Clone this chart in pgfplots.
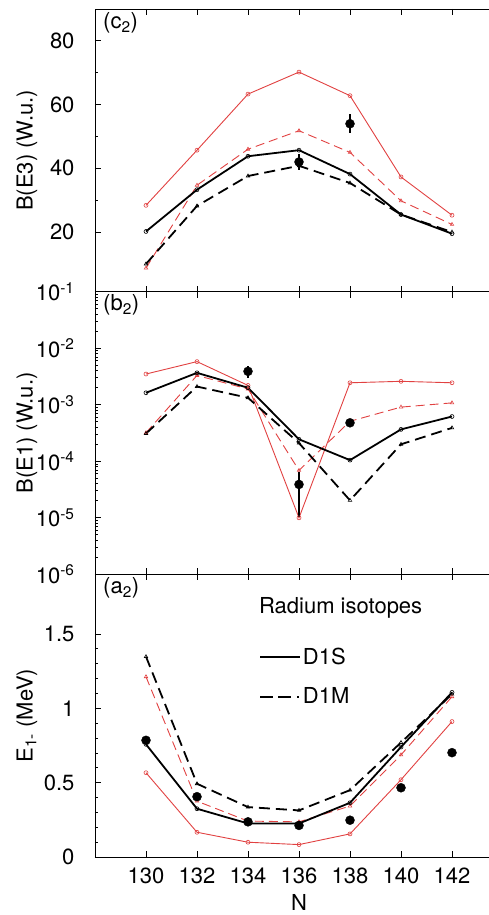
\documentclass[border=0pt]{standalone}
\usepackage{pgfplots}
\pgfplotsset{compat=1.18}
\usepackage{fontspec}
\setmainfont{TeX Gyre Heros}
\definecolor{myred}{RGB}{225,65,65}
\newcommand{\fs}{\fontsize{22}{25}\selectfont}
\pgfplotsset{
  base/.style={
    scale only axis, width=408pt, height=282.7pt,
    xmin=128, xmax=144,
    xtick={130,132,...,142},
    xtick pos=both, ytick pos=left,
    tick align=inside,
    major tick length=6pt, minor tick length=3.5pt,
    every tick/.style={black, line width=0.8pt},
    axis line style={line width=0.9pt},
    /pgf/number format/assume math mode=true,
    ticklabel style={font=\fs},
    yticklabel style={xshift=-17pt},
    every axis y label/.style={at={(axis description cs:0,0.5)}, xshift=-68pt, rotate=90, anchor=center, font=\fs},
    every axis x label/.style={at={(axis description cs:0.5,0)}, yshift=-45pt, anchor=center, font=\fs},
  },
  rs/.style={myred, line width=0.9pt, mark=o, mark size=2pt, mark options={solid, line width=0.6pt}},
  rd/.style={myred, line width=0.9pt, dash pattern=on 9pt off 5pt, mark=triangle, mark size=2pt, mark options={solid, line width=0.6pt}},
  bs/.style={black, line width=1.8pt, mark=o, mark size=2pt, mark options={solid, line width=0.6pt}},
  bd/.style={black, line width=1.8pt, dash pattern=on 11pt off 6pt, mark=triangle, mark size=2pt, mark options={solid, line width=0.6pt}},
  ex/.style={black, only marks, mark=*, mark size=4.5pt, error bars/.cd, y dir=both, y explicit, error mark=none, error bar style={line width=1.1pt, black}},
}
\begin{document}
\begin{tikzpicture}
% panel a
\begin{axis}[base, at={(0pt,0pt)}, anchor=south west,
  ymin=0, ymax=1.9, ytick={0,0.5,1,1.5}, minor y tick num=4,
  xlabel={N}, ylabel={E\textsubscript{1-} (MeV)},
  xticklabel style={yshift=-7pt},
  legend style={at={(axis cs:134.43,1.42)}, anchor=north west, draw=none, fill=none, font=\fs, inner sep=0pt, row sep=18pt, cells={anchor=west}},
  legend image code/.code={\draw[#1] (0pt,0pt) -- (40pt,0pt);}]
\addlegendimage{black, line width=1.8pt}
\addlegendentry{D1S}
\addlegendimage{black, line width=1.8pt, dash pattern=on 13pt off 5pt on 13pt off 6pt on 2pt off 10pt}
\addlegendentry{D1M}
\addplot[rs, forget plot] coordinates {(130,0.567)(132,0.167)(134,0.100)(136,0.084)(138,0.156)(140,0.52)(142,0.911)};
\addplot[rd, forget plot] coordinates {(130,1.212)(132,0.376)(134,0.242)(136,0.237)(138,0.343)(140,0.687)(142,1.078)};
\addplot[bs, forget plot] coordinates {(130,0.758)(132,0.325)(134,0.226)(136,0.226)(138,0.365)(140,0.74)(142,1.107)};
\addplot[bd, forget plot] coordinates {(130,1.347)(132,0.493)(134,0.336)(136,0.314)(138,0.450)(140,0.77)(142,1.095)};
\addplot[black, only marks, mark=*, mark size=4.5pt, forget plot] coordinates {(130,0.785)(132,0.406)(134,0.237)(136,0.213)(138,0.248)(140,0.466)(142,0.702)};
\node[anchor=north west, inner sep=0pt, font=\fs] at ([xshift=8pt,yshift=-3pt]rel axis cs:0,1) {(a\textsubscript{2})};
\node[anchor=base west, inner sep=0pt, font=\fs] at (axis cs:134.43,1.637) {Radium isotopes};
\end{axis}
% panel b
\begin{axis}[base, at={(0pt,282.7pt)}, anchor=south west,
  ymode=log, ymin=1e-6, ymax=1e-1,
  ytick={1e-6,1e-5,1e-4,1e-3,1e-2,1e-1},
  yticklabels={10\textsuperscript{-6},10\textsuperscript{-5},10\textsuperscript{-4},10\textsuperscript{-3},10\textsuperscript{-2},10\textsuperscript{-1}},
  xticklabels={}, ylabel={B(E1) (W.u.)}]
\addplot[rs] coordinates {(130,3.5e-3)(132,5.8e-3)(134,2.2e-3)(136,1.0e-5)(138,2.45e-3)(140,2.6e-3)(142,2.45e-3)};
\addplot[rd] coordinates {(130,3.2e-4)(132,3.3e-3)(134,1.9e-3)(136,6.9e-5)(138,5.1e-4)(140,9.1e-4)(142,1.08e-3)};
\addplot[bs] coordinates {(130,1.63e-3)(132,3.67e-3)(134,2.0e-3)(136,2.45e-4)(138,1.05e-4)(140,3.67e-4)(142,6.2e-4)};
\addplot[bd] coordinates {(130,3.1e-4)(132,2.1e-3)(134,1.33e-3)(136,2.1e-4)(138,2.04e-5)(140,2.0e-4)(142,3.9e-4)};
\addplot[ex] coordinates {(134,3.9e-3) += (0,1.0e-3) -= (0,0.9e-3) (136,3.9e-5) += (0,2.6e-5) -= (0,2.85e-5) (138,4.8e-4) += (0,0.6e-4) -= (0,0.6e-4)};
\node[anchor=north west, inner sep=0pt, font=\fs] at ([xshift=8pt,yshift=-3pt]rel axis cs:0,1) {(b\textsubscript{2})};
\end{axis}
% panel c
\begin{axis}[base, at={(0pt,565.4pt)}, anchor=south west,
  ymin=1.3, ymax=90, ytick={20,40,60,80}, minor y tick num=1,
  xticklabels={}, ylabel={B(E3) (W.u.)}]
\addplot[rs] coordinates {(130,28.4)(132,45.7)(134,63.3)(136,70.2)(138,62.8)(140,37.3)(142,25.3)};
\addplot[rd] coordinates {(130,8.7)(132,34.7)(134,46.0)(136,51.8)(138,45.0)(140,29.8)(142,22.4)};
\addplot[bs] coordinates {(130,20.2)(132,33.3)(134,43.8)(136,45.7)(138,38.2)(140,25.5)(142,19.5)};
\addplot[bd] coordinates {(130,10.0)(132,28.2)(134,37.6)(136,40.8)(138,35.4)(140,25.5)(142,20.0)};
\addplot[ex] coordinates {(136,42) +- (0,2.5) (138,54) +- (0,3)};
\node[anchor=north west, inner sep=0pt, font=\fs] at ([xshift=8pt,yshift=-3pt]rel axis cs:0,1) {(c\textsubscript{2})};
\end{axis}
\pgfresetboundingbox
\useasboundingbox (-95pt,-57.9pt) rectangle (393pt,857.1pt);
\end{tikzpicture}
\end{document}
